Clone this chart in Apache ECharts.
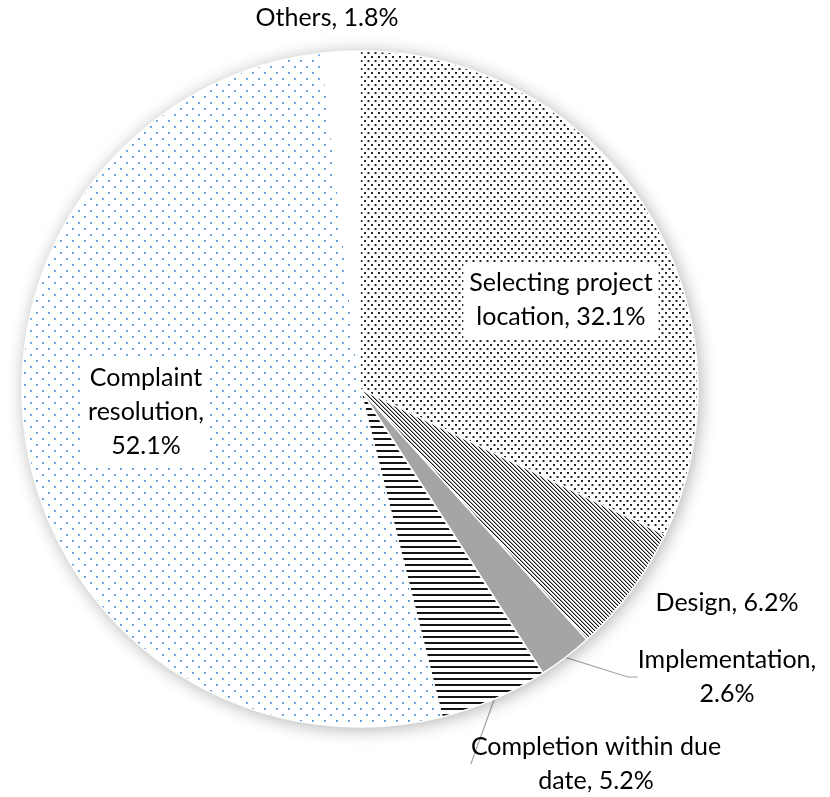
<!DOCTYPE html>
<html>
<head>
<meta charset="utf-8">
<script src="https://cdn.jsdelivr.net/npm/echarts@6/dist/echarts.min.js"></script>
<style>
  html, body { margin: 0; padding: 0; background: #fff; }
  #chart { width: 830px; height: 797px; }
</style>
</head>
<body>
<div id="chart"></div>
<script>
// Share of issues by project stage (percent), clockwise from 12 o'clock
const categories = [
  'Selecting project location',
  'Design',
  'Implementation',
  'Completion within due date',
  'Complaint resolution',
  'Others'
];
const shares = [32.1, 6.2, 2.6, 5.2, 52.1, 1.8];
// Label wording, with the line breaks used on the chart
const labelHeads = [
  'Selecting project\nlocation',
  'Design',
  'Implementation,\n',
  'Completion within due\ndate',
  'Complaint\nresolution,\n',
  'Others'
];

// ---- fill patterns ----
function tile(w, h, draw) {
  const c = document.createElement('canvas');
  c.width = w; c.height = h;
  const g = c.getContext('2d');
  g.fillStyle = '#fff';
  g.fillRect(0, 0, w, h);
  draw(g);
  return { image: c, repeat: 'repeat' };
}
const dotsDark = tile(7, 8, g => {
  g.fillStyle = '#262626';
  g.fillRect(0, 0, 2, 2);
  g.fillRect(3.5, 4, 2, 2);
});
const diagonal = tile(4, 4, g => {
  g.fillStyle = '#111';
  for (let i = 0; i < 4; i++) g.fillRect(i, i, 1, 1);
  g.fillStyle = 'rgba(0,0,0,0.35)';
  for (let i = 0; i < 4; i++) g.fillRect((i + 1) % 4, i, 1, 1);
});
const horizontal = tile(8, 6, g => {
  g.fillStyle = '#151515';
  g.fillRect(0, 0, 8, 2);
});
const dotsBlue = tile(12, 12, g => {
  g.fillStyle = '#4a90d9';
  g.fillRect(0, 0, 1.8, 1.8);
  g.fillRect(6, 6, 1.8, 1.8);
});
const fills = [dotsDark, diagonal, '#a5a5a5', horizontal, dotsBlue, '#ffffff'];

// label anchor points (centre of each text block)
const labelSpots = [
  [561, 300], [727, 603], [727, 677], [596, 764], [146, 412], [327, 18]
];
const insideLabel = [true, false, false, false, true, false];
const showLine = [false, false, true, true, false, false];

const CX = 360, CY = 389, R = 338;

const data = categories.map((name, i) => ({
  name,
  value: shares[i],
  itemStyle: { color: fills[i] },
  label: insideLabel[i] ? {
    backgroundColor: '#fff',
    padding: [4, 6, 4, 6]
  } : {},
  labelLine: { show: showLine[i] }
}));

const chart = echarts.init(document.getElementById('chart'), null, { renderer: 'canvas' });
chart.setOption({
  backgroundColor: '#fff',
  animation: false,
  series: [
    {
      // soft shadow disc under the slices
      type: 'pie',
      silent: true,
      center: [CX, CY],
      radius: R,
      label: { show: false },
      labelLine: { show: false },
      itemStyle: {
        color: '#fff',
        shadowBlur: 18,
        shadowColor: 'rgba(0,0,0,0.32)',
        shadowOffsetX: 2,
        shadowOffsetY: 2
      },
      data: [{ value: 1, name: '' }]
    },
    {
      type: 'pie',
      center: [CX, CY],
      radius: R,
      startAngle: 90,
      clockwise: true,
      avoidLabelOverlap: false,
      itemStyle: { borderColor: '#fff', borderWidth: 1.5 },
      label: {
        show: true,
        position: 'outside',
        fontFamily: 'Lato',
        fontSize: 25,
        lineHeight: 34,
        color: '#000',
        align: 'center',
        formatter: p => {
          const head = labelHeads[p.dataIndex];
          const sep = head.endsWith('\n') ? '' : ', ';
          return head + sep + p.value.toFixed(1) + '%';
        }
      },
      labelLine: {
        show: true,
        length: 10,
        length2: 10,
        lineStyle: { color: '#a6a6a6', width: 1.2 }
      },
      labelLayout: p => {
        const s = labelSpots[p.dataIndex];
        return { x: s[0], y: s[1], align: 'center', verticalAlign: 'middle' };
      },
      data
    }
  ]
});
</script>
</body>
</html>
